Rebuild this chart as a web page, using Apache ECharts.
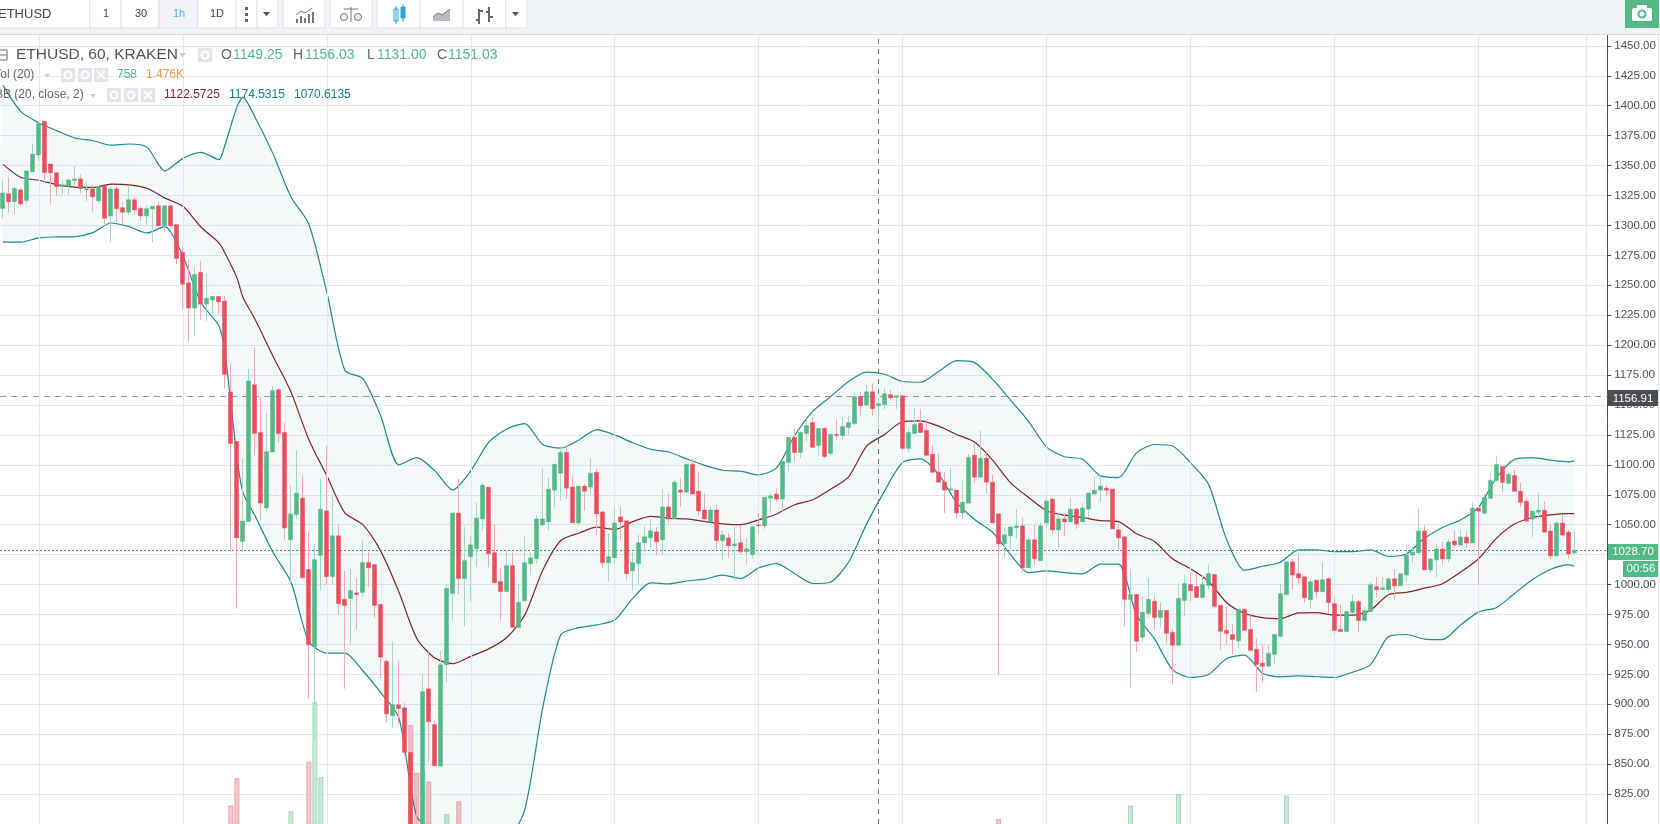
<!DOCTYPE html>
<html><head><meta charset="utf-8">
<style>html,body{margin:0;padding:0;background:#fff;overflow:hidden}#c{width:1660px;height:824px}</style>
<script src="https://cdn.jsdelivr.net/npm/echarts@6/dist/echarts.min.js"></script>
</head><body><div id="c"></div>
<script>
// each row: open, close, low, high (k = position in the list)
const candles = [
[1314.2,1327,1306,1338.6],[1326.4,1319.8,1311,1340],[1319.8,1330.8,1309,1332],[1329.7,1318,1316,1331],
[1320.9,1345.5,1318,1345.5],[1344.9,1359.6,1344.9,1368.5],[1358.8,1385,1354,1386],[1387,1344,1336,1387],
[1351.3,1344,1318,1351.3],[1344,1332.5,1324.7,1344],[1332.5,1333.9,1326.4,1338],[1333,1338,1325.6,1338],
[1337.5,1338.8,1333.9,1349.6],[1338.8,1330.8,1327,1342.7],[1330.5,1330,1320,1335],[1330.5,1323.9,1311.7,1334],
[1320.6,1332,1318,1333],[1332.5,1306,1301,1333],[1308,1330.5,1286,1332],[1330.5,1314,1303,1332.5],
[1314.8,1311,1301,1319.5],[1311,1321.4,1309,1332.5],[1321.4,1313,1309,1324],[1314.2,1308,1304,1316],
[1308,1314,1300.7,1317],[1313.7,1316,1286,1316],[1316.4,1299.8,1299,1320],[1299.8,1316.4,1294,1316.4],
[1316.4,1299.8,1297,1316.4],[1300.7,1272.4,1267.7,1300.7],[1277.4,1250.9,1229.6,1282.7],[1252,1231,1203,1271.6],
[1231,1259,1207,1265.5],[1260.8,1234.3,1221,1270.5],[1234.3,1239,1220,1260.5],[1237.6,1240.6,1225.7,1240.6],
[1240.6,1236.2,1225.7,1240.6],[1236.8,1175.6,1163.7,1241],[1160.8,1117.9,1027.7,1184.3],[1119.6,1039,980,1119.6],
[1036,1053,1027,1105.5],[1052.6,1170,1052.6,1180],[1166.9,1126.2,1108,1198],[1127,1068,1054,1156.6],
[1064,1111,1061,1143],[1110.7,1161.9,1110.7,1166],[1162.7,1126,1118.5,1164],[1127,1047.3,1037.4,1135],
[1037.4,1059,1000,1083],[1058.4,1076.4,1054.8,1112],[1072.2,1005.8,1005.8,1091.3],[1012.5,949.7,904.8,1044],
[948,1020.8,870.8,1033.8],[1024.4,1063,995,1088],[1061.5,1006.7,1000,1116],[1006.7,1040.7,1000,1074],
[1040.7,984,975,1050],[987.6,982.6,913,1011.6],[988.4,995,950,1013],[993,991.7,963,1005],
[993.4,1018.3,989.5,1037],[1018.3,1014,998,1027],[1016.6,982.6,972,1016.6],[983.4,939.4,922,983.4],
[936,892,884.6,937.8],[890.5,899.6,880,952.4],[899.6,896.3,883,936.4],[897,859.8,857,901],
[859.8,790,785,859.8],[795,780,775,823.8],[790,910.4,785,925],[912.9,885.5,851.4,945],
[883,848.7,848.7,886],[848.4,933,848.4,945],[933,996.7,918,1001],[992.6,1059.8,970.4,1059.8],
[1059.8,1005,991.7,1088.6],[1005,1020,965,1048],[1023.3,1033.2,986,1041],[1030,1055.6,1014.7,1068.6],
[1054.8,1083,1045,1085],[1081.4,1025.8,1014.4,1081.4],[1026.6,1001.7,1000,1049.8],[1002.5,994.2,970,1013.9],
[994.2,1015.8,994.2,1028.5],[1015.8,964.3,964.3,1026.6],[964.3,985,964.3,1001],[986.7,1018.3,985,1040.7],
[1017.5,1022.4,1008,1026.6],[1021.6,1054.8,1017.5,1058],[1049.8,1054.8,1049.8,1097],[1052.3,1079.7,1044.9,1089.4],
[1078.9,1100.5,1064,1100.5],[1093,1110.4,1069.8,1115.7],[1110.4,1080.5,1071.4,1115.7],[1081.4,1051.5,1051.5,1091.3],
[1051.5,1082.2,1049,1082.2],[1082.2,1078,1061.5,1083.9],[1081.4,1093,1073.4,1105.5],[1093.8,1059,1041,1096.9],
[1060.6,1018.3,1014,1061.5],[1018.3,1023.3,1002.8,1042.6],[1022.4,1051.5,1017.5,1064.8],[1056.5,1052.3,1037.4,1064.8],
[1053.2,1009.2,1004.2,1053.2],[1011.6,1018.3,995,1027],[1017.5,1034.9,1000,1041.5],[1034.9,1039.9,1027,1049],
[1039,1044.9,1030,1054.8],[1044,1035.7,1024.4,1047.9],[1037.4,1064.8,1024.4,1079.7],[1064.8,1054.8,1051.5,1076.4],
[1054.8,1085.5,1054.8,1088],[1078.9,1077.2,1065,1088.8],[1077.2,1100.5,1076.4,1100.5],[1100.5,1075.6,1075.6,1105.2],
[1078,1061.5,1057.6,1093.8],[1062.3,1054.8,1052.6,1076.4],[1052.3,1062.3,1052.3,1065.3],[1062.3,1036.6,1029,1066.4],
[1036.6,1041.5,1020,1045],[1039,1032.4,1022,1043],[1032.4,1034,1002.8,1048.5],[1034.9,1027.4,1025.8,1049.8],
[1027.4,1029.9,1016.6,1039],[1025,1048.2,1021.6,1049],[1049.8,1049,1042.4,1059.8],[1049,1073,1046.5,1073],
[1072.2,1073.9,1059.8,1076],[1075.6,1071.4,1068.7,1080.5],[1071.4,1103,1060.9,1103],[1102.1,1122.9,1094.7,1123.4],
[1122.9,1110.4,1103,1130],[1110.4,1127,1105.5,1128],[1126.2,1132.8,1119.6,1138.4],[1135.3,1114.6,1114.6,1140],
[1116.2,1130.4,1108,1130.4],[1130.4,1107,1105.5,1131.7],[1109.6,1125.4,1108,1126.2],[1125.4,1124.5,1121,1137.8],
[1124.5,1132,1121,1140],[1131.2,1135.3,1125.4,1141],[1134.5,1156.9,1132.8,1160],[1156.9,1149.4,1140.6,1161],
[1150,1161,1149.4,1166.6],[1161,1147,1141,1167.7],[1149.25,1151.03,1131,1156.03],[1150.3,1159.4,1146,1164],
[1158.6,1156,1153.9,1162.7],[1156.4,1157.7,1146.7,1157.7],[1157.7,1113.8,1112,1157.7],[1113.8,1127,1110.4,1131],
[1126.2,1133.7,1126.2,1147.5],[1134.5,1127,1127,1146.7],[1128.7,1108,1107.4,1136.4],[1108.8,1093.8,1093.8,1116.2],
[1093.8,1085.5,1085.5,1109.6],[1085.5,1078.9,1059.8,1093.6],[1078.9,1080,1078.9,1097.7],[1078.9,1059.8,1054.8,1078.9],
[1059.8,1068.9,1054.8,1087],[1068,1106.3,1068,1108.8],[1108,1089.7,1084.7,1117],[1089.7,1105.5,1089.7,1128.7],
[1105.5,1085.5,1076.4,1111],[1085.5,1051.5,1051.5,1092],[1059,1034,925,1059],[1034,1041.5,1022.7,1048],
[1040.7,1048.2,1030,1048.2],[1047.4,1049,1038,1063],[1049,1014,1010,1056.5],[1014,1037.4,1014,1040],
[1037.4,1021.6,1016.6,1049.8],[1020,1049,1020,1052],[1051.5,1069.8,1046.5,1072.6],[1071.4,1045.7,1042.4,1072.6],
[1045.7,1054.8,1030,1059],[1054.8,1052.3,1040.7,1059],[1052.3,1063,1052.3,1072.6],[1063,1050.7,1046.5,1064.2],
[1052.3,1063.9,1052.3,1068.6],[1063,1076.4,1055.6,1076.4],[1075.6,1078.9,1075.6,1089.4],[1078.9,1082.2,1069,1091],
[1080.5,1078.9,1074,1083],[1079.7,1046.5,1046.5,1079.7],[1045.7,1039,1028,1050],[1039.9,987.6,965,1039.9],
[987.6,991.7,913.7,1013],[991.7,952.7,943.6,991.7],[956,976.8,951.4,989.8],[976,987.6,972.6,1005],
[986,972.6,962.6,991],[972.6,978.4,964,985],[978.4,959.3,951,978.4],[960,949.3,917,962.6],
[949.3,988.4,949.3,1000.8],[986.7,1000.8,973.4,1007.8],[1000,995,986,1010.4],[998.4,989.2,989.2,1009],
[989.2,1000,989.2,1007.8],[999.2,1009.2,995.8,1016.6],[1008.4,981.8,980,1008.4],[982.6,961,945.3,982.6],
[961.8,959.3,950,981.4],[958.2,954,941.5,966.6],[953,979.3,947,980],[979.3,961.8,961.8,980],
[962.5,945,945,974.4],[945.9,933.4,910.2,955],[934.3,931.8,918.5,949.5],[931.8,942.6,930.7,949.5],
[941.7,958.3,933.4,958.3],[956.7,992.4,956.7,1000.7],[991.5,1018.9,991.5,1018.9],[1018.9,1008,996.5,1022],
[1009,1005.6,1000.7,1024.7],[1006.5,989,985,1006.5],[987.4,1002.3,980,1005.4],[1003.7,994,989,1003.7],
[994,1004,994,1018.6],[1004.8,984.9,975.8,1006.2],[984,961.7,959,989.6],[962.5,960.8,960.8,982.7],
[960.8,977.4,960.8,978.5],[976.6,985.7,975.8,991.5],[985.7,970,960.5,987],[970,978.3,970,981.3],
[977.4,999.8,977.4,1002],[998.2,995.7,989,1006.2],[995.7,997.3,995.7,1006.2],[995.7,1004.8,993.7,1004.8],
[1004.8,999,987.4,1012.3],[999,1009,999,1009],[1008,1024.7,1002,1033],[1024.7,1027.2,1018,1031.4],
[1026.4,1044.7,1026.4,1063.8],[1044.7,1012.3,1012.3,1049.6],[1012.3,1021.4,1009.8,1021.4],[1020.6,1029.7,1005.6,1033.9],
[1029.7,1021.4,1016.4,1035.8],[1021.4,1035.5,1018.6,1038],[1036.4,1033,1031,1044.9],[1033,1039.7,1033,1044.9],
[1039.7,1034.7,1030.5,1044.9],[1034.7,1063.8,1034.7,1068.5],[1063.8,1061.3,999.8,1063.8],[1059.6,1072.9,1059.6,1076.2],
[1072,1087,1072,1093.4],[1087,1100.3,1086,1107.7],[1098.6,1085.3,1077,1098.6],[1084.5,1092,1084.5,1094.5],
[1091,1077.9,1077.9,1096],[1077.9,1068.7,1065,1085],[1069.6,1053,1053,1072.6],[1054.6,1061.3,1039.7,1061.3],
[1060.4,1062,1054.6,1076.8],[1062,1043.8,1043.8,1069.6],[1044.7,1024,1021.4,1049.6],[1024,1051.3,1024,1053.2],
[1051.3,1041.3,1041.3,1058],[1043.8,1025.6,1021.4,1045.5],[1026.4,1028.7,1024.2,1044.7]
];
const categories = Array.from({length:268},(_,i)=>String(i));

const bbK = [0,3,6,9,12,15,18,21,24,27,30,33,36,37,39,40,42,45,48,51,54,57,60,63,66,69,72,75,78,81,84,87,90,93,96,99,102,105,108,111,114,117,120,123,126,129,132,135,138,141,144,147,150,153,156,159,162,165,168,171,174,177,180,183,186,189,192,195,198,201,204,207,210,213,216,219,222,225,228,231,234,237,240,243,246,249,252,255,258,261,262];
const upper = [1417,1395,1385.6,1379,1373,1370.7,1367,1368,1365.4,1345.5,1356,1361,1355,1367,1399,1407,1390.6,1360,1324,1301,1244,1179,1172,1140.6,1100,1106,1095,1079,1095,1119,1130,1134.5,1117,1114,1120.7,1129.5,1125,1118.5,1113,1110.7,1105,1099.6,1095.5,1094.7,1091.6,1097.7,1124.5,1144.7,1157,1169.6,1177.4,1175.7,1169.6,1169,1178,1187,1185.4,1171.6,1154,1136.4,1115,1106.8,1104.6,1090.8,1089.4,1110,1117,1115.7,1101.9,1083.9,1038,1012,1015.3,1018.6,1029,1029,1027.5,1027.5,1029,1023.6,1025.6,1038.6,1047.7,1054,1064.3,1089,1104.4,1106,1103.9,1102.5,1103.3];
const basis = [1351,1340,1337.7,1333.9,1332,1331.7,1334.4,1333.9,1331,1322.8,1316,1298.7,1285.4,1277,1256.4,1240,1221.8,1191,1161,1121,1090.8,1059.8,1050,1027.7,994,955,938.6,933.9,940,946.3,955.8,974.6,1012,1036.8,1042.9,1047.9,1046,1052.6,1057,1055.4,1054.8,1052.6,1050.7,1050,1054,1059,1066.7,1070.9,1079.7,1090,1115.7,1125.4,1136,1136.7,1132.3,1125.4,1119,1104,1085,1072.8,1061.7,1058,1056,1053.4,1052.6,1042.4,1036,1021.6,1013.3,1002.8,985,976,972.4,971.6,976.3,976.6,974.4,974.4,978.5,991.5,993.5,997,1000.7,1010.3,1021.4,1038.6,1050.5,1056,1058.2,1059.3,1059.3];
const lower = [1286,1286,1289.6,1290.4,1290.7,1294,1302,1299,1293.7,1299,1274.4,1235.6,1216,1194,1107,1077,1057.6,1027,1002.3,952.4,942.8,942.8,928,909.6,888.8,806,795,790,785,782,785,812,897,958,964,966.3,970.4,988.4,1001.4,1000.6,1003,1004.5,1007.8,1005,1013.9,1017.5,1009,1000.9,1002.2,1018.8,1050.7,1078.3,1101.9,1105,1092,1068.6,1054.3,1043.7,1025,1010,1011.4,1010,1009,1017,1017,974.6,954.6,929,922.5,924.8,938,941,926,922.9,923.7,923,922.4,926.8,932.9,956.4,958.3,954.5,954,966,977,980.7,992.4,1004,1012.6,1016.4,1015.3];

const volK = [38,39,48,51,52,53,68,69,70,71,74,76,166,188,196,214];
const volV = [2925,4305,2640,5125,8125,4375,6975,4575,4575,4140,2505,3140,2255,2925,3505,3425];

const gridK = [6,30,54,78,102,126,150,174,198,222,246,264];
const crossK = 146, crossPrice = 1156.91, lastPrice = 1028.70;

const UP='#53b987', DN='#eb4d5c', UPW='#a3dac0', DNW='#f4a9b1', TEAL='#1f8a8e', BROWN='#872323', TXT='#4c525e';

const volData = categories.map(()=>null);
volK.forEach((k,i)=>{ const c=candles[k]; const up=c[1]>=c[0];
  volData[k]={value:volV[i],itemStyle:{color:up?'#c9e6d8':'#f9c6cb',borderColor:up?'#a8d8c1':'#eba5ad',borderWidth:1}}; });

function txt(x,y,t,font,fill,align){return {type:'text',x,y,z:100,silent:true,style:{text:t,font:font||'12px "Liberation Sans"',fill:fill||TXT,textVerticalAlign:'middle',textAlign:align||'left'}};}
function box(x,y,w,h,fill,stroke,r){return {type:'rect',z:99,silent:true,shape:{x,y,width:w,height:h,r:r||0},style:{fill:fill,stroke:stroke||null,lineWidth:stroke?1:0}};}
function ln(x1,y1,x2,y2,c,w){return {type:'line',z:100,silent:true,shape:{x1,y1,x2,y2},style:{stroke:c,lineWidth:w||1}};}
function tri(x,y,c,s){return {type:'polygon',z:100,silent:true,shape:{points:[[x,y],[x+(s||7),y],[x+(s||7)/2,y+(s||7)*.6]]},style:{fill:c}};}
function iconSet(xs,y){const o=[];xs.forEach((x,i)=>{o.push(box(x,y-7,14,14,'#e1e4e8'));
  if(i===2){o.push(ln(x+3,y-4,x+11,y+4,'#fff',2),ln(x+11,y-4,x+3,y+4,'#fff',2));}
  else{o.push({type:'circle',z:100,silent:true,shape:{cx:x+7,cy:y,r:3.5},style:{fill:'none',stroke:'#fff',lineWidth:2}});}
});return o;}

const gfx = [
  box(0,0,1660,34,'#f0f3f8'), ln(0,34.5,1660,34.5,'#d9dde3'),
  box(-1,-1,91,29,'#fff','#dfe3e8'),
  box(90,-1,31,29,'#fff','#dfe3e8'),box(121,-1,38,29,'#fff','#dfe3e8'),box(159,-1,39,29,'#f1f3f6','#dfe3e8'),box(198,-1,38,29,'#fff','#dfe3e8'),box(236,-1,21,29,'#fff','#dfe3e8'),box(257,-1,21,29,'#fff','#dfe3e8'),
  box(283,-1,42,29,'#fff','#dfe3e8'),box(330,-1,42,29,'#fff','#dfe3e8'),
  box(377,-1,43,29,'#fff','#dfe3e8'),box(420,-1,43,29,'#fff','#dfe3e8'),box(463,-1,43,29,'#fff','#dfe3e8'),box(506,-1,21,29,'#fff','#dfe3e8'),
  txt(-2,14,'ETHUSD','13px "Liberation Sans"','#444'),
  txt(106,14,'1','11px "Liberation Sans"','#444','center'),txt(141,14,'30','11px "Liberation Sans"','#444','center'),
  txt(179,14,'1h','11px "Liberation Sans"','#5aa9dc','center'),txt(217,14,'1D','11px "Liberation Sans"','#444','center'),
  box(245,7,3,3,'#666'),box(245,13,3,3,'#666'),box(245,19,3,3,'#666'),tri(263,12,'#555'),tri(512,12,'#555'),
  box(296,19,2,4,'#777'),box(300,16,2,7,'#777'),box(304,18,2,5,'#777'),box(308,14,2,9,'#777'),box(312,12,2,11,'#777'),
  {type:'polyline',z:100,silent:true,shape:{points:[[296,15],[301,11],[305,13],[312,8]]},style:{stroke:'#777',fill:'none',lineWidth:1}},
  ln(351,7,351,22,'#777'),ln(344,9,358,9,'#777'),
  {type:'circle',z:100,silent:true,shape:{cx:344,cy:17,r:3.5},style:{stroke:'#777',fill:'#eee',lineWidth:1}},
  {type:'circle',z:100,silent:true,shape:{cx:358,cy:17,r:3.5},style:{stroke:'#777',fill:'#eee',lineWidth:1}},
  box(394,9,4,12,'#fff','#2f9fd8'),ln(396,6,396,24,'#2f9fd8'),box(401,7,4,11,'#2f9fd8','#2f9fd8'),ln(403,4,403,22,'#2f9fd8'),
  {type:'polygon',z:100,silent:true,shape:{points:[[433,21],[433,17],[438,13],[442,15],[450,9],[450,21]]},style:{fill:'#b9bdc3'}},
  {type:'polyline',z:100,silent:true,shape:{points:[[433,17],[438,13],[442,15],[450,9]]},style:{stroke:'#777',fill:'none',lineWidth:1}},
  ln(479,9,479,24,'#666',2),ln(476,20,479,20,'#666',2),ln(479,11,483,11,'#666',2),ln(489,7,489,22,'#666',2),ln(486,12,489,12,'#666',2),ln(489,17,493,17,'#666',2),
  box(1625,0,34,28,UP),
  box(1632,8,20,13,'#fff',null,2),box(1637,5,10,4,'#fff',null,1),
  {type:'circle',z:100,silent:true,shape:{cx:1642,cy:14,r:3.5},style:{fill:'#fff',stroke:UP,lineWidth:2}},
  ln(1658.5,34,1658.5,824,'#dfe3e8'),
  // legend
  box(-2,50,9,10,'#fff','#666'),ln(0,55,6,55,'#666'),
  txt(16,55,'ETHUSD, 60, KRAKEN','15.5px "Liberation Sans"','#555'),tri(179,53,'#ccc',7),
  box(198,48,14,14,'#e1e4e8'),{type:'circle',z:100,silent:true,shape:{cx:205,cy:55,r:3.5},style:{fill:'none',stroke:'#fff',lineWidth:2}},
  txt(221,55,'O','14px "Liberation Sans"','#666'),txt(233,55,'1149.25','14px "Liberation Sans"',UP),
  txt(293,55,'H','14px "Liberation Sans"','#666'),txt(305,55,'1156.03','14px "Liberation Sans"',UP),
  txt(367,55,'L','14px "Liberation Sans"','#666'),txt(377,55,'1131.00','14px "Liberation Sans"',UP),
  txt(437,55,'C','14px "Liberation Sans"','#666'),txt(448,55,'1151.03','14px "Liberation Sans"',UP),
  txt(-7,75,'Vol (20)','12px "Liberation Sans"','#666'),tri(44,74,'#ccc',6),...iconSet([61,78,94],75),
  txt(117,75,'758','12px "Liberation Sans"',UP),txt(146,75,'1.476K','12px "Liberation Sans"','#f5994a'),
  txt(-5,95,'BB (20, close, 2)','12px "Liberation Sans"','#666'),tri(90,94,'#ccc',6),...iconSet([107,124,141],95),
  txt(164,95,'1122.5725','12px "Liberation Sans"',BROWN),txt(229,95,'1174.5315','12px "Liberation Sans"','#138484'),txt(294,95,'1070.6135','12px "Liberation Sans"','#138484'),
  // price tags
  box(1608,390,50,16,'#4a4d52'),txt(1633,398.5,'1156.91','11.5px "Liberation Sans"','#fff','center'),
  box(1608,544,51,16,UP),txt(1633,552,'1028.70','11.5px "Liberation Sans"','#fff','center'),
  box(1623,561,35,16,UP),txt(1641,569,'00:56','11.5px "Liberation Sans"','#fff','center')
];

const chart = echarts.init(document.getElementById('c'),null,{renderer:'canvas',width:1660,height:824});
chart.setOption({
  animation:false, backgroundColor:'#fff',
  grid:{left:-1.1,right:52.7,top:15.9,bottom:-5,containLabel:false},
  xAxis:{type:'category',data:categories,show:false,boundaryGap:true},
  yAxis:[
    {type:'value',position:'right',min:800,max:1475,interval:25,scale:true,
     axisLine:{show:true,onZero:false,lineStyle:{color:TXT,width:1}},
     axisTick:{show:true,length:4,lineStyle:{color:TXT}},
     axisLabel:{color:TXT,fontSize:11.5,fontFamily:'"Liberation Sans"',margin:7,formatter:v=>v>1450||v<825?'':v.toFixed(2)},
     splitLine:{show:true,lineStyle:{color:'#e3e9ee',width:1}}},
    {type:'value',show:false,min:2000,max:42650,splitLine:{show:false}}
  ],
  graphic:{elements:gfx},
  series:[
    {type:'bar',name:'Vol',yAxisIndex:1,data:volData,barWidth:5,z:2,silent:true,
     markLine:{silent:true,symbol:'none',label:{show:false},lineStyle:{color:'#e3e9ee',type:'solid',width:1},data:gridK.map(k=>({xAxis:k}))}},
    {type:'custom',name:'BB fill',z:3,silent:true,data:[0],clip:true,
     renderItem:(p,api)=>{
       const pts=[];bbK.forEach((k,i)=>pts.push(api.coord([k,upper[i]])));
       for(let i=bbK.length-1;i>=0;i--)pts.push(api.coord([bbK[i],lower[i]]));
       return {type:'polygon',shape:{points:pts,smooth:0.2},style:{fill:'rgba(19,132,132,0.05)'}};
     }},
    {type:'line',name:'BB upper',z:4,silent:true,symbol:'none',smooth:0.25,data:bbK.map((k,i)=>[k,upper[i]]),lineStyle:{color:TEAL,width:1.2}},
    {type:'line',name:'BB lower',z:4,silent:true,symbol:'none',smooth:0.25,data:bbK.map((k,i)=>[k,lower[i]]),lineStyle:{color:TEAL,width:1.2}},
    {type:'line',name:'BB basis',z:4,silent:true,symbol:'none',smooth:0.25,data:bbK.map((k,i)=>[k,basis[i]]),lineStyle:{color:BROWN,width:1.2}},
    {type:'candlestick',name:'wicks',z:5,silent:true,barWidth:1,data:candles,
     itemStyle:{color:UPW,color0:DNW,borderColor:UPW,borderColor0:DNW,borderWidth:1}},
    {type:'candlestick',name:'ETHUSD',z:6,silent:true,barWidth:4.5,
     data:candles.map(c=>[c[0],c[1],Math.min(c[0],c[1]),Math.max(c[0],c[1])]),
     itemStyle:{color:UP,color0:DN,borderColor:UP,borderColor0:DN,borderWidth:0.5}},
    {type:'line',name:'guides',z:8,silent:true,symbol:'none',data:[],
     markLine:{silent:true,symbol:'none',label:{show:false},data:[
       {xAxis:crossK,lineStyle:{color:'#777',type:[5,5],width:1}},
       {yAxis:crossPrice,lineStyle:{color:'#999',type:[6,5],width:1}},
       {yAxis:lastPrice,lineStyle:{color:'#3f9e72',type:[2,2],width:1}}
     ]}}
  ]
});
</script></body></html>
